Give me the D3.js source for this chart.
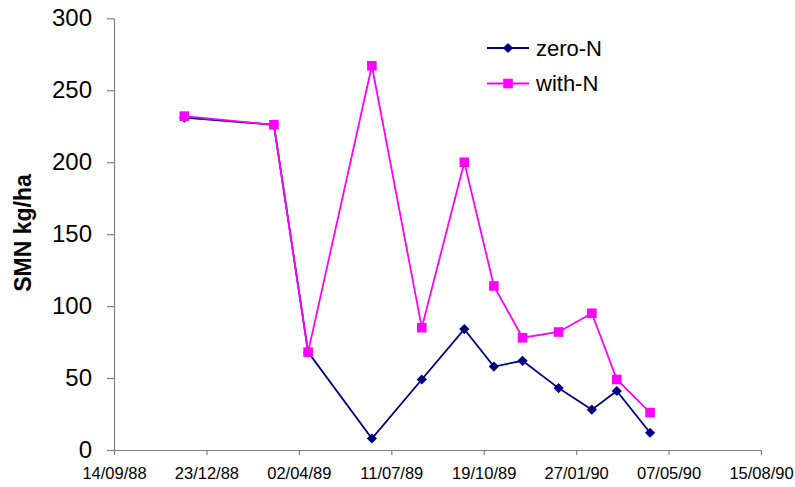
<!DOCTYPE html>
<html>
<head>
<meta charset="utf-8">
<script src="https://cdn.jsdelivr.net/npm/d3@7"></script>
<style>
  html, body { margin: 0; padding: 0; background: #fff; }
  svg { display: block; font-family: Arial, "Liberation Sans", sans-serif; }
</style>
</head>
<body>
<svg id="chart" width="795" height="487"></svg>
<script>
// ---- data ----
const dates = ["29/11/88","06/03/89","12/04/89","20/06/89","13/08/89","28/09/89",
               "30/10/89","30/11/89","08/01/90","13/02/90","12/03/90","17/04/90"];
const zeroN = [231, 226, 68, 8, 49, 84, 58, 62, 43, 28, 41, 12];
const withN = [232, 226, 68, 267, 85, 200, 114, 78, 82, 95, 49, 26];
const xTickLabels = ["14/09/88","23/12/88","02/04/89","11/07/89","19/10/89","27/01/90","07/05/90","15/08/90"];
const yTicks = [0, 50, 100, 150, 200, 250, 300];
const seriesNames = ["zero-N", "with-N"];
const seriesColors = ["#000080", "#FF00FF"];

const parse = d3.utcParse("%d/%m/%y");
const fmt = d3.utcFormat("%d/%m/%y");
const xTickDates = xTickLabels.map(parse);

const svg = d3.select("#chart");
const x = d3.scaleUtc()
  .domain([xTickDates[0], xTickDates[xTickDates.length - 1]])
  .range([114, 761]);
const y = d3.scaleLinear().domain([0, 300]).range([450, 18.3]);

// axes
const axisColor = "#808080";
const gx = svg.append("g").attr("transform", "translate(0,450)")
  .call(d3.axisBottom(x).tickValues(xTickDates).tickFormat(fmt)
    .tickSize(5).tickSizeOuter(0).tickPadding(12));
gx.selectAll("text").attr("font-size", 16.5).attr("fill", "#000")
  .attr("font-family", "Arial, 'Liberation Sans', sans-serif");

const gy = svg.append("g").attr("transform", "translate(114,0)")
  .call(d3.axisLeft(y).tickValues(yTicks).tickSize(7).tickSizeOuter(0).tickPadding(15));
gy.selectAll("text").attr("font-size", 24).attr("fill", "#000")
  .attr("font-family", "Arial, 'Liberation Sans', sans-serif");

[gx, gy].forEach(g => {
  g.select(".domain").attr("stroke", axisColor).attr("stroke-width", 1.2);
  g.selectAll(".tick line").attr("stroke", axisColor).attr("stroke-width", 1.2);
});

// y title
svg.append("text")
  .attr("transform", "translate(31,233) rotate(-90)")
  .attr("text-anchor", "middle")
  .attr("font-weight", "bold")
  .attr("font-size", 23)
  .text("SMN kg/ha");

// series
const series = [
  { name: seriesNames[0], color: seriesColors[0], values: zeroN, shape: "diamond" },
  { name: seriesNames[1], color: seriesColors[1], values: withN, shape: "square" }
];
const diamond = d3.symbol(d3.symbolSquare, 52)();
const square = d3.symbol(d3.symbolSquare, 92)();

const line = d3.line().x(d => x(d.date)).y(d => y(d.v));

series.forEach(s => {
  const pts = dates.map((d, i) => ({ date: parse(d), v: s.values[i] }));
  svg.append("path").datum(pts)
    .attr("d", line)
    .attr("fill", "none")
    .attr("stroke", s.color)
    .attr("stroke-width", 1.8);
  svg.append("g").selectAll("path").data(pts).join("path")
    .attr("d", s.shape === "diamond" ? diamond : square)
    .attr("transform", d => `translate(${x(d.date)},${y(d.v)})` + (s.shape === "diamond" ? " rotate(45)" : ""))
    .attr("fill", s.color);
});

// legend
series.forEach((s, i) => {
  const ly = 48 + i * 35.5;
  const g = svg.append("g").attr("transform", `translate(487,${ly})`);
  g.append("line").attr("x1", 0).attr("x2", 42).attr("y1", 0).attr("y2", 0)
    .attr("stroke", s.color).attr("stroke-width", 1.8);
  g.append("path")
    .attr("d", s.shape === "diamond" ? diamond : square)
    .attr("transform", "translate(21,0)" + (s.shape === "diamond" ? " rotate(45)" : ""))
    .attr("fill", s.color);
  g.append("text").attr("x", 49).attr("y", 0).attr("dy", "0.35em")
    .attr("font-size", 22).attr("fill", "#000").text(s.name);
});
</script>
</body>
</html>
